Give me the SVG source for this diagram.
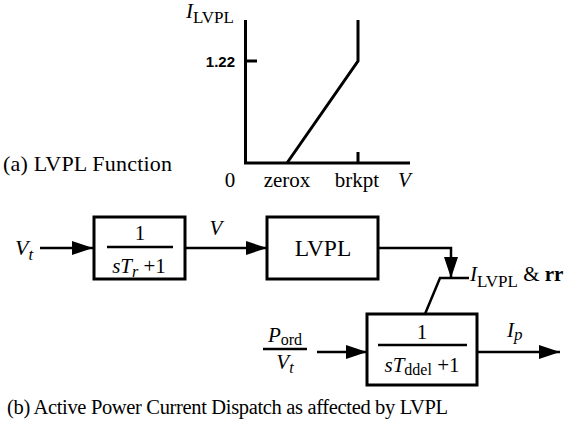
<svg xmlns="http://www.w3.org/2000/svg" width="573" height="432" viewBox="0 0 573 432">
<defs>
<style>
text{font-family:"Liberation Serif","Times New Roman",serif;fill:#000;}
.it{font-style:italic;}
.ln{fill:none;stroke:#000;stroke-width:3;}
.box{fill:#fff;stroke:#000;stroke-width:3;}
.frac{stroke:#000;stroke-width:2.5;}
.conn{fill:none;stroke:#000;stroke-width:2.5;}
</style>
<marker id="ah" markerWidth="22" markerHeight="14" refX="21" refY="7" orient="auto" markerUnits="userSpaceOnUse">
<path d="M0,0 L21,7 L0,14 z" fill="#000"/>
</marker>
</defs>
<rect width="573" height="432" fill="#fff"/>

<g id="lvpl-plot">
<path class="ln" d="M245.5,20 V164.5 M244,163 H410"/>
<path class="ln" d="M245,61 H257"/>
<path class="ln" d="M358,152 V163"/>
<polyline class="ln" points="287,163 358,61 358,20"/>
<text x="186" y="18" font-size="21"><tspan class="it">I</tspan><tspan font-size="17" dy="5">LVPL</tspan></text>
<text x="235" y="67" font-size="15" font-weight="bold" text-anchor="end" style="font-family:'Liberation Sans',Arial,sans-serif">1.22</text>
<text x="230" y="187" font-size="21" text-anchor="middle">0</text>
<text x="287" y="187" font-size="21" text-anchor="middle">zerox</text>
<text x="357" y="187" font-size="21" text-anchor="middle">brkpt</text>
<text x="398" y="187" font-size="21" class="it">V</text>
<text x="3" y="171" font-size="22" textLength="169">(a) LVPL Function</text>
</g>

<g id="input-vt">
<text x="15" y="255" font-size="22"><tspan class="it">V</tspan><tspan class="it" font-size="17" dy="5">t</tspan></text>
</g>

<g id="lag-tr">
<rect class="box" x="94" y="217" width="91" height="62"/>
<line class="frac" x1="107" y1="247" x2="173" y2="247"/>
<text x="140" y="240" font-size="21" text-anchor="middle">1</text>
<text x="139" y="273" font-size="21" text-anchor="middle"><tspan class="it">sT</tspan><tspan class="it" font-size="16" dy="4">r</tspan><tspan dy="-4"> +1</tspan></text>
</g>

<g id="lvpl-block">
<rect class="box" x="267" y="217" width="111" height="62"/>
<text x="323" y="256" font-size="23.5" text-anchor="middle">LVPL</text>
</g>

<g id="limit-label">
<text x="470" y="281" font-size="21"><tspan class="it">I</tspan><tspan font-size="17" dy="6">LVPL</tspan><tspan dy="-6"> &amp; </tspan><tspan font-weight="bold">rr</tspan></text>
</g>

<g id="input-pord">
<line class="frac" x1="263" y1="349" x2="307" y2="349"/>
<text x="285" y="342" font-size="21" text-anchor="middle"><tspan class="it">P</tspan><tspan font-size="16" dy="3">ord</tspan></text>
<text x="285" y="369" font-size="21" text-anchor="middle"><tspan class="it">V</tspan><tspan class="it" font-size="16" dy="4">t</tspan></text>
</g>

<g id="lag-tddel">
<rect class="box" x="367" y="314" width="110" height="71"/>
<line class="frac" x1="378" y1="345" x2="467" y2="345"/>
<text x="422" y="339" font-size="21" text-anchor="middle">1</text>
<text x="422" y="372" font-size="21" text-anchor="middle"><tspan class="it">sT</tspan><tspan font-size="16" dy="3">ddel</tspan><tspan dy="-3"> +1</tspan></text>
</g>

<g id="output-ip">
<text x="507" y="337" font-size="21"><tspan class="it">I</tspan><tspan class="it" font-size="17" dy="3">p</tspan></text>
</g>

<g id="connectors">
<line class="conn" x1="40" y1="248" x2="93" y2="248" marker-end="url(#ah)"/>
<line class="conn" x1="185" y1="248" x2="267" y2="248" marker-end="url(#ah)"/>
<text x="216" y="235" font-size="21" class="it" text-anchor="middle">V</text>
<path class="conn" d="M378,248 H451 V278" marker-end="url(#ah)"/>
<path class="conn" d="M425,314 L440,278 H469"/>
<line class="conn" x1="317" y1="352" x2="367" y2="352" marker-end="url(#ah)"/>
<line class="conn" x1="477" y1="352" x2="560" y2="352" marker-end="url(#ah)"/>
</g>

<text x="7" y="414" font-size="20.5" textLength="441">(b) Active Power Current Dispatch as affected by LVPL</text>
</svg>
